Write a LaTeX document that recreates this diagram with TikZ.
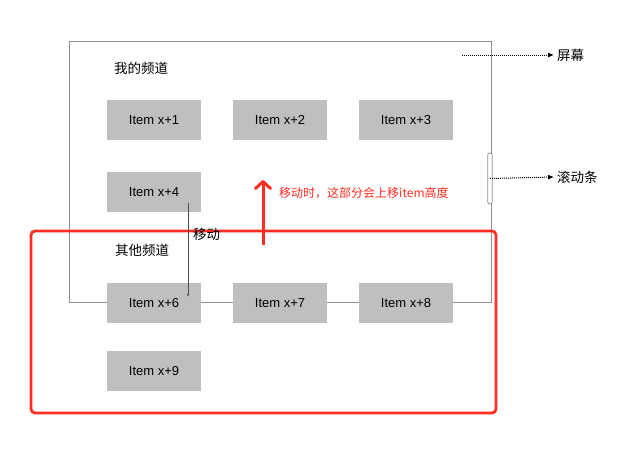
\documentclass[tikz,border=0pt]{standalone}
\usepackage{fontspec}
\setmainfont{Liberation Sans}
\newfontfamily\cjk{Noto Sans CJK SC}
\usetikzlibrary{arrows.meta}
\definecolor{itemgray}{HTML}{BFBFBF}
\definecolor{framegray}{HTML}{8E8E8E}
\definecolor{hotred}{HTML}{FF2E22}

\begin{document}
\begin{tikzpicture}[x=1pt,y=-1pt,
  item/.style={fill=itemgray,minimum width=94pt,minimum height=40pt,inner sep=0pt,font=\fontsize{13}{15}\selectfont},
  title/.style={anchor=west,inner sep=0pt,font=\fontsize{13.5}{16}\cjk},
  hint/.style={draw,densely dotted,line width=1pt,-{Latex[length=6pt,width=5pt]}}]
\useasboundingbox (0,0) rectangle (641,463);
% screen
\draw[framegray,line width=1pt] (69,41) rectangle (491,302);
\node [draw=framegray,fill=white,line width=0.8pt,rounded corners=2pt,minimum width=4.5pt,minimum height=51pt,inner sep=0pt] (bar) at (490,178.5) {};
\node [title] (mine) at (114,68) {我的频道};
\node [title] (other) at (115,250) {其他频道};
% items
\node [item] (i1) at (154,120) {Item x+1};
\node [item] (i2) at (280,120) {Item x+2};
\node [item] (i3) at (406,120) {Item x+3};
\node [item] (i4) at (154,192) {Item x+4};
\node [item] (i6) at (154,303) {Item x+6};
\node [item] (i7) at (280,303) {Item x+7};
\node [item] (i8) at (406,303) {Item x+8};
\node [item] (i9) at (154,371) {Item x+9};
% side labels
\node [title] (screen) at (557,55) {屏幕};
\node [title] (scroll) at (557,177) {滚动条};
\coordinate (s0) at (462,55);
\draw [hint] (s0) -- ([xshift=-3pt]screen.west);
\draw [hint] (bar.center) -- ([xshift=-3pt]scroll.west);
% other channels
\draw [hotred,line width=2.8pt,rounded corners=4pt] (31,231) rectangle (496,413);
\coordinate (u0) at (263,245);
\coordinate (u1) at (263,180);
\draw [hotred,line width=3pt,-{Straight Barb[length=7pt,width=15pt,round]}] (u0) -- (u1);
\node [anchor=west,inner sep=0pt,text=hotred,font=\fontsize{12}{14}\cjk] (note) at (279,193) {移动时，这部分会上移item高度};
% move
\coordinate (m0) at (188,203);
\coordinate (m1) at (188,297);
\draw [black!70,line width=0.6pt,-{Latex[length=3pt,width=2.5pt]}] (m0) -- (m1);
\node [title] (move) at (193,234.5) {移动};
\end{tikzpicture}
\end{document}
